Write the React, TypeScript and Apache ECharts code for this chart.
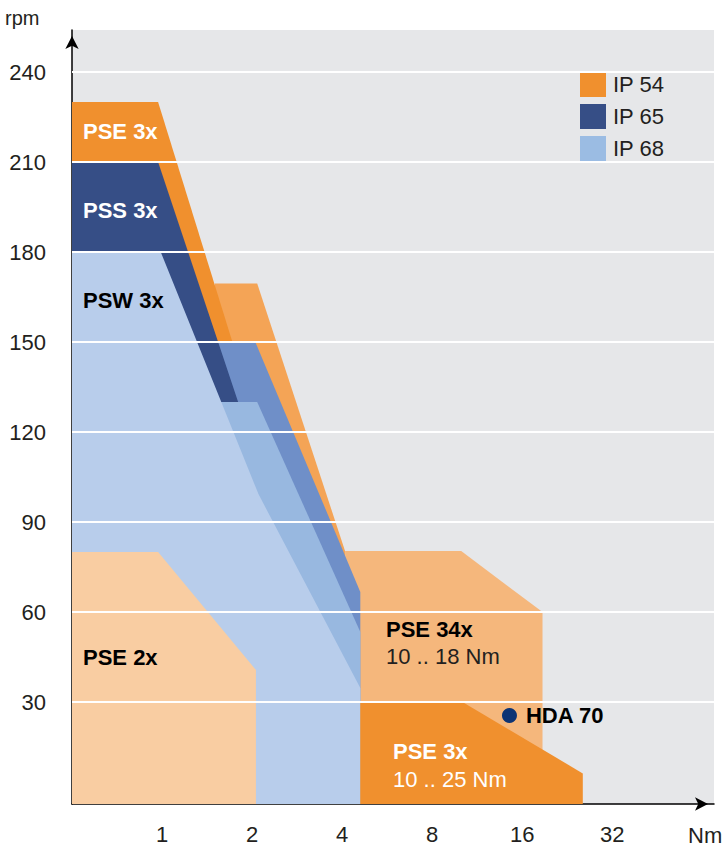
import React, { useEffect, useRef } from 'react';
import * as echarts from 'echarts';

// Axis ranges
const X_MIN = 0.5;
const X_MAX = 70;
const Y_MIN = -4;
const Y_MAX = 254;

// Tick labels
const xTickLabels = [1, 2, 4, 8, 16, 32];
const yTickValues = [30, 60, 90, 120, 150, 180, 210, 240];

// Speed-torque envelopes: [torque Nm, speed rpm]
const pse3xHighIP54 = [[1.5, 169.5], [2.08, 169.5], [4.09, 80.3], [4.09, 64], [1.5, 64]];
const pse3xIP54 = [[0.5, 230], [0.97, 230], [1.82, 142], [0.5, 142]];
const pse34xIP54 = [[4.09, 80.3], [10, 80.3], [18.7, 60], [18.7, Y_MIN], [4.09, Y_MIN]];
const pss3xHighIP65 = [[1.5, 150], [2.05, 150], [4.6, 66.7], [4.6, Y_MIN], [1.5, Y_MIN]];
const pss3xIP65 = [[0.5, 210], [0.97, 210], [1.97, 118], [0.5, 118]];
const psw3xHighIP68 = [[1.55, 130], [2.08, 130], [4.6, 53.3], [4.6, Y_MIN], [1.55, Y_MIN]];
const psw3xIP68 = [[0.5, 180], [0.99, 180], [2.1, 99.3], [4.6, 34.7], [4.6, Y_MIN], [0.5, Y_MIN]];
const pse2x = [[0.5, 80], [0.97, 80], [2.06, 40.7], [2.06, Y_MIN], [0.5, Y_MIN]];
const pse3xLowIP54 = [[4.6, 30], [10.1, 30], [25.5, 6.2], [25.5, Y_MIN], [4.6, Y_MIN]];

const hda70 = [14.5, 25.5];

const legendNames = ['IP 54', 'IP 65', 'IP 68'];
const legendColors = ['#F0902E', '#364E86', '#9BBCE3'];

const FONT = '"Liberation Sans", Arial, sans-serif';

function polygonSeries(points: number[][], color: string) {
  return {
    type: 'custom',
    coordinateSystem: 'cartesian2d',
    data: [points[0]],
    encode: { x: 0, y: 1 },
    silent: true,
    clip: false,
    renderItem: (_params: any, api: any) => ({
      type: 'polygon',
      shape: { points: points.map((p) => api.coord(p)) },
      style: { fill: color },
    }),
  };
}

export default function App() {
  const ref = useRef<HTMLDivElement>(null);

  useEffect(() => {
    document.body.style.margin = '0';
    if (!ref.current) return;
    const chart = echarts.init(ref.current, null, { renderer: 'svg' });

    const option: any = {
      animation: false,
      grid: {
        left: 72,
        right: 10,
        top: 30,
        bottom: 44,
        show: true,
        backgroundColor: '#E6E7E9',
        borderWidth: 0,
      },
      xAxis: {
        type: 'log',
        logBase: 2,
        min: X_MIN,
        max: X_MAX,
        axisLine: {
          onZero: false,
          lineStyle: { color: '#000', width: 1.5 },
          symbol: ['none', 'arrow'],
          symbolSize: [10, 13],
          symbolOffset: [0, -6],
        },
        axisTick: { show: false },
        splitLine: { show: false },
        axisLabel: {
          margin: 19,
          fontSize: 22,
          fontFamily: FONT,
          color: '#231F20',
          formatter: (v: number) => {
            const r = Math.round(v * 1000) / 1000;
            return xTickLabels.includes(r) ? String(r) : '';
          },
        },
      },
      yAxis: {
        type: 'value',
        min: Y_MIN,
        max: Y_MAX,
        axisLine: {
          show: true,
          onZero: false,
          lineStyle: { color: '#000', width: 1.5 },
          symbol: ['none', 'arrow'],
          symbolSize: [10, 13],
          symbolOffset: [0, -6],
        },
        axisTick: { show: false },
        splitLine: { show: false },
        axisLabel: {
          customValues: yTickValues,
          margin: 26,
          fontSize: 22,
          fontFamily: FONT,
          color: '#231F20',
        },
      },
      legend: {
        orient: 'vertical',
        left: 580,
        top: 72,
        padding: 0,
        itemWidth: 26,
        itemHeight: 25,
        itemGap: 7,
        icon: 'rect',
        selectedMode: false,
        textStyle: { fontSize: 22, fontFamily: FONT, color: '#231F20', lineHeight: 25, padding: [0, 0, 0, 2] },
        data: legendNames.map((n, i) => ({ name: n, itemStyle: { color: legendColors[i] } })),
      },
      series: [
        polygonSeries(pse3xHighIP54, '#F4A456'),
        polygonSeries(pse3xIP54, '#F0902E'),
        polygonSeries(pse34xIP54, '#F5B77C'),
        polygonSeries(pss3xHighIP65, '#6F8FC8'),
        polygonSeries(pss3xIP65, '#364E86'),
        polygonSeries(psw3xHighIP68, '#98B8E0'),
        polygonSeries(psw3xIP68, '#B8CDEB'),
        polygonSeries(pse2x, '#F9CDA2'),
        polygonSeries(pse3xLowIP54, '#F0902E'),
        {
          type: 'custom',
          coordinateSystem: 'cartesian2d',
          data: yTickValues.map((v) => [X_MIN, v]),
          encode: { x: 0, y: 1 },
          silent: true,
          clip: false,
          z: 5,
          renderItem: (_params: any, api: any) => {
            const v = api.value(1);
            const a = api.coord([X_MIN, v]);
            const b = api.coord([X_MAX, v]);
            return {
              type: 'line',
              shape: { x1: a[0], y1: a[1], x2: b[0], y2: b[1] },
              style: { stroke: '#FFFFFF', lineWidth: 2 },
            };
          },
        },
        {
          type: 'scatter',
          data: [hda70],
          symbolSize: 15,
          z: 10,
          silent: true,
          itemStyle: { color: '#0D3474', opacity: 1 },
          label: {
            show: true,
            position: 'right',
            distance: 9,
            formatter: 'HDA 70',
            fontSize: 22,
            fontWeight: 'bold',
            fontFamily: FONT,
            color: '#000000',
            opacity: 1,
          },
        },
        ...legendNames.map((n, i) => ({
          type: 'line',
          name: n,
          data: [],
          color: legendColors[i],
          itemStyle: { color: legendColors[i] },
        })),
      ],
      graphic: [
        { type: 'text', x: 5, y: 18, z: 100, style: { text: 'rpm', fill: '#231F20', fontSize: 20, fontFamily: FONT, verticalAlign: 'middle' } },
        { type: 'text', x: 688, y: 835, z: 100, style: { text: 'Nm', fill: '#231F20', fontSize: 22, fontFamily: FONT, verticalAlign: 'middle' } },
        { type: 'text', x: 83, y: 131, z: 100, style: { text: 'PSE 3x', fill: '#FFFFFF', fontSize: 22, fontWeight: 'bold', fontFamily: FONT, verticalAlign: 'middle' } },
        { type: 'text', x: 83, y: 210, z: 100, style: { text: 'PSS 3x', fill: '#FFFFFF', fontSize: 22, fontWeight: 'bold', fontFamily: FONT, verticalAlign: 'middle' } },
        { type: 'text', x: 83, y: 300, z: 100, style: { text: 'PSW 3x', fill: '#000000', fontSize: 22, fontWeight: 'bold', fontFamily: FONT, verticalAlign: 'middle' } },
        { type: 'text', x: 83, y: 657, z: 100, style: { text: 'PSE 2x', fill: '#000000', fontSize: 22, fontWeight: 'bold', fontFamily: FONT, verticalAlign: 'middle' } },
        { type: 'text', x: 386, y: 629, z: 100, style: { text: 'PSE 34x', fill: '#000000', fontSize: 22, fontWeight: 'bold', fontFamily: FONT, verticalAlign: 'middle' } },
        { type: 'text', x: 386, y: 656, z: 100, style: { text: '10 .. 18 Nm', fill: '#231F20', fontSize: 22, fontFamily: FONT, verticalAlign: 'middle' } },
        { type: 'text', x: 393, y: 751, z: 100, style: { text: 'PSE 3x', fill: '#FFFFFF', fontSize: 22, fontWeight: 'bold', fontFamily: FONT, verticalAlign: 'middle' } },
        { type: 'text', x: 393, y: 779, z: 100, style: { text: '10 .. 25 Nm', fill: '#FFFFFF', fontSize: 22, fontFamily: FONT, verticalAlign: 'middle' } },
      ],
    };

    chart.setOption(option);
    return () => chart.dispose();
  }, []);

  return <div ref={ref} style={{ width: 724, height: 848 }} />;
}
